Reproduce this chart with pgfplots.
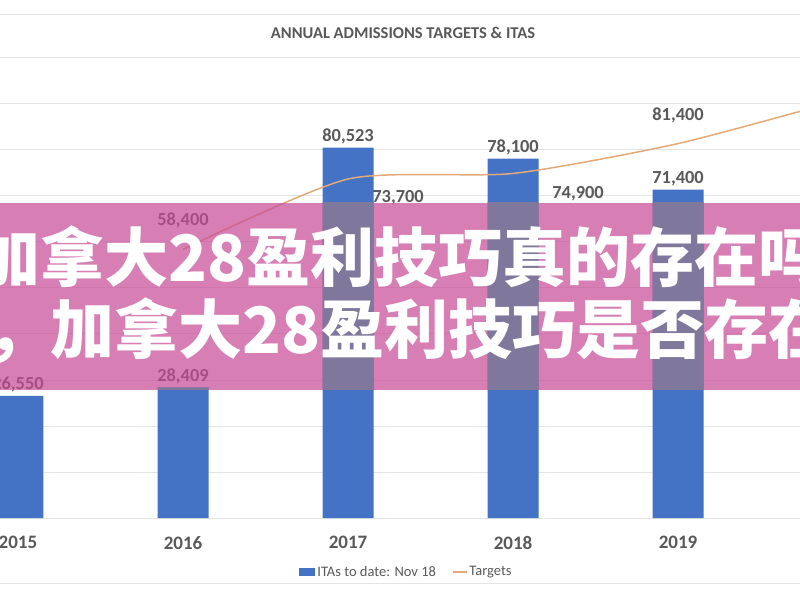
\documentclass[border=0pt]{standalone}
\usepackage{pgfplots}
\pgfplotsset{compat=1.18}
\usepackage{pgfplotstable}
\usepackage{fontspec}
\setmainfont{Carlito}
\newfontfamily\cjk{Noto Sans CJK SC}

\definecolor{blueb}{RGB}{68,114,196}
\definecolor{tline}{RGB}{226,170,120}
\definecolor{txt}{RGB}{89,89,89}
\definecolor{gridc}{RGB}{228,228,228}
\definecolor{banner}{RGB}{199,74,151}
\definecolor{barunder}{RGB}{128,120,156}

% ITAs to date (Nov 18)
\pgfplotstableread{
x y lab
0 26550 26,550
1 28409 28,409
2 80523 80,523
3 78100 78,100
4 71400 71,400
}\itas

% targets, with label offsets in pt
\pgfplotstableread{
x y dx dy lab
1 58400 0 29 58,400
2 73700 50 -19 73,700
3 74900 65 -20 74,900
4 81400 0 28 81,400
5 91000 0 0 {}
}\targets

% axis runs a little past the page on the right, the picture is cut at 800pt
\pgfplotsset{
  chartbox/.style={
    at={(0pt,82pt)}, anchor=south west,
    scale only axis, width=820pt, height=460pt,
    xmin=-0.109, xmax=4.860, ymin=0, ymax=100000,
    axis x line*=bottom, axis y line*=left,
    axis line style={draw=none}, major tick length=0pt,
    scaled y ticks=false,
  },
}

\begin{document}
\begin{tikzpicture}
\fill[white] (-10pt,-10pt) rectangle (830pt,610pt);
\fill[gridc] (-10pt,584.5pt) rectangle (830pt,585.5pt);
\fill[gridc] (-10pt,16.5pt) rectangle (830pt,17.5pt);
\node[text=txt, font=\bfseries\fontsize{16.5}{16.5}\selectfont] at (403pt,567pt) {ANNUAL ADMISSIONS TARGETS \& ITAS};

\begin{axis}[chartbox,
  ytick={0,10000,...,100000}, yticklabels={},
  ymajorgrids, grid style={gridc, line width=1pt},
  xtick={0,...,4}, xticklabels={2015,2016,2017,2018,2019},
  xticklabel style={text=txt, font=\bfseries\fontsize{19}{19}\selectfont, yshift=-15pt},
  legend style={at={(0.4957,-0.117)}, anchor=center, draw=none, fill=none,
    legend columns=2, font=\fontsize{14.5}{14.5}\selectfont, text=txt},
  /tikz/every even column/.append style={column sep=14pt},
]
\addplot[ybar, bar width=51pt, fill=blueb, draw=none,
  nodes near coords, point meta=explicit symbolic,
  every node near coord/.append style={text=txt, font=\bfseries\fontsize{18.4}{18.4}\selectfont},
  legend image code/.code={\fill[blueb] (0pt,-4pt) rectangle (16pt,4pt);}]
  table[x=x, y=y, meta=lab] {\itas};
\addlegendentry{ITAs to date: Nov 18}

\addplot[tline, line width=1.5pt, smooth, tension=0.4, mark=none,
  nodes near coords, point meta=explicit symbolic,
  visualization depends on={\thisrow{dx} \as \dx},
  visualization depends on={\thisrow{dy} \as \dy},
  every node near coord/.append style={text=txt, anchor=center,
    xshift=\dx pt, yshift=\dy pt, font=\bfseries\fontsize{18.4}{18.4}\selectfont},
  legend image code/.code={\draw[tline, line width=1.5pt] (0pt,0pt) -- (14pt,0pt);}]
  table[x=x, y=y, meta=lab] {\targets};
\addlegendentry{Targets}
\end{axis}

% pink banner over the chart
\fill[banner, opacity=0.7] (-10pt,210pt) rectangle (830pt,397pt);

% bars seen through the banner
\begin{scope}
\clip (-10pt,210pt) rectangle (830pt,397pt);
\begin{axis}[chartbox, xtick=\empty, ytick=\empty]
\addplot[ybar, bar width=51pt, fill=barunder, draw=none]
  table[x=x, y=y] {\itas};
\end{axis}
\end{scope}

\node[anchor=west, inner sep=0pt, text=white, font=\cjk\bfseries\fontsize{64}{64}\selectfont]
  at (-24pt,343pt) {加拿大28盈利技巧真的存在吗};
\node[anchor=west, inner sep=0pt, text=white, font=\cjk\bfseries\fontsize{64}{64}\selectfont]
  at (-14pt,269pt) {，加拿大28盈利技巧是否存在};

\pgfresetboundingbox
\useasboundingbox (0,0) rectangle (800pt,600pt);
\end{tikzpicture}
\end{document}
